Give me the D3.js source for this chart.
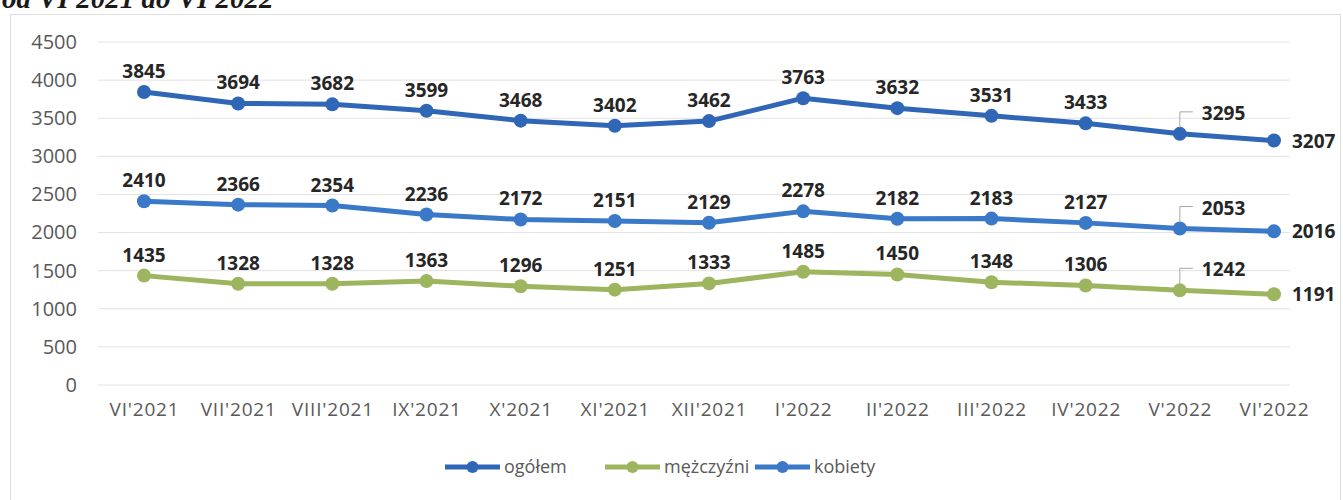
<!DOCTYPE html>
<html>
<head>
<meta charset="utf-8">
<script src="https://cdn.jsdelivr.net/npm/d3@7"></script>
<style>
  body { margin: 0; background: #fff; }
  svg text { font-family: "Open Sans", "Noto Sans", sans-serif; }
</style>
</head>
<body>
<div id="chart"></div>
<script>
// months on the x axis
const months = ["VI'2021", "VII'2021", "VIII'2021", "IX'2021", "X'2021", "XI'2021", "XII'2021",
  "I'2022", "II'2022", "III'2022", "IV'2022", "V'2022", "VI'2022"]
const ogolem = [3845, 3694, 3682, 3599, 3468, 3402, 3462, 3763, 3632, 3531, 3433, 3295, 3207]
const kobiety = [2410, 2366, 2354, 2236, 2172, 2151, 2129, 2278, 2182, 2183, 2127, 2053, 2016]
const mezczyzni = [1435, 1328, 1328, 1363, 1296, 1251, 1333, 1485, 1450, 1348, 1306, 1242, 1191]
const yTicks = [0, 500, 1000, 1500, 2000, 2500, 3000, 3500, 4000, 4500]

const seriesList = [
  { name: "ogółem", values: ogolem, color: "#2f67b6" },
  { name: "mężczyźni", values: mezczyzni, color: "#9db55e" },
  { name: "kobiety", values: kobiety, color: "#3a78c8" }
]

function renderChart(frame_id) {
  let width = 1343
  let height = 500

  var svg = d3.select("#" + frame_id)
    .append("svg")
    .attr("width", width)
    .attr("height", height)

  // title from the page above, cut off at the top as in the scan
  svg.append("text")
    .attr("x", 2).attr("y", 8)
    .style("font-family", "'Liberation Serif', serif")
    .style("font-weight", "bold").style("font-style", "italic")
    .style("font-size", "29px").attr("fill", "#1a1a1a")
    .text("od VI 2021 do VI 2022")

  // chart frame
  svg.append("rect")
    .attr("x", 10.5).attr("y", 14.5)
    .attr("width", 1330).attr("height", 500)
    .attr("fill", "none").attr("stroke", "#dcdcdc")

  var x = d3.scalePoint().domain(months).range([144, 1274])
  var y = d3.scaleLinear().domain([0, 4500]).range([385, 42])

  // gridlines
  svg.append("g")
    .selectAll("line")
    .data(yTicks)
    .enter()
    .append("line")
    .attr("x1", 98).attr("x2", 1290)
    .attr("y1", d => y(d)).attr("y2", d => y(d))
    .attr("stroke", "#e2e2e2").attr("stroke-width", 1)

  // y axis labels
  var yAxis = svg.append("g")
    .attr("transform", "translate(77,0)")
    .call(d3.axisLeft(y).tickValues(yTicks).tickFormat(d3.format("d")).tickSize(0).tickPadding(0))
  yAxis.select(".domain").remove()
  yAxis.selectAll("text")
    .style("font-size", "20px").attr("fill", "#595959")
    .style("font-family", "'Open Sans', sans-serif")

  // x axis labels
  var xAxis = svg.append("g")
    .attr("transform", "translate(0,402)")
    .call(d3.axisBottom(x).tickSize(0).tickPadding(0))
  xAxis.select(".domain").remove()
  xAxis.selectAll("text")
    .style("font-size", "19px").attr("fill", "#595959")
    .style("letter-spacing", "0.8px")
    .style("font-family", "'Open Sans', sans-serif")

  var line = d3.line()
    .x((d, i) => x(months[i]))
    .y(d => y(d))

  seriesList.forEach(function (s) {
    var g = svg.append("g")
    g.append("path")
      .attr("d", line(s.values))
      .attr("fill", "none")
      .attr("stroke", s.color)
      .attr("stroke-width", 5)
      .attr("stroke-linejoin", "round")

    g.selectAll("circle")
      .data(s.values)
      .enter()
      .append("circle")
      .attr("cx", (d, i) => x(months[i]))
      .attr("cy", d => y(d))
      .attr("r", 7)
      .attr("fill", s.color)

    var last = s.values.length - 1
    g.selectAll(".lbl")
      .data(s.values)
      .enter()
      .append("text")
      .attr("class", "lbl")
      .attr("x", function (d, i) {
        if (i == last) return x(months[i]) + 18
        if (i == last - 1) return x(months[i]) + 22
        return x(months[i])
      })
      .attr("y", function (d, i) {
        if (i == last) return y(d) + 7
        return y(d) - 14
      })
      .attr("text-anchor", (d, i) => (i >= last - 1) ? "start" : "middle")
      .style("font-size", "19px")
      .style("font-weight", "bold")
      .attr("fill", "#262626")
      .text(d => d)

    // leader line for the V'2022 label
    var lx = x(months[last - 1]), ly = y(s.values[last - 1])
    g.append("path")
      .attr("d", "M" + lx + "," + (ly - 6) + "V" + (ly - 22) + "H" + (lx + 13))
      .attr("fill", "none").attr("stroke", "#a6a6a6").attr("stroke-width", 1)
  })

  // legend
  var legendX = [445, 605, 755]
  var legend = svg.append("g")
  seriesList.forEach(function (s, i) {
    var lg = legend.append("g").attr("transform", "translate(" + legendX[i] + ",467)")
    lg.append("line").attr("x1", 0).attr("x2", 55).attr("y1", 0).attr("y2", 0)
      .attr("stroke", s.color).attr("stroke-width", 5)
    lg.append("circle").attr("cx", 27.5).attr("cy", 0).attr("r", 6).attr("fill", s.color)
    lg.append("text").attr("x", 59).attr("y", 6)
      .style("font-size", "18px").attr("fill", "#595959")
      .text(s.name)
  })
}

document.addEventListener('DOMContentLoaded', function () {
  renderChart("chart")
}, false)
</script>
</body>
</html>
